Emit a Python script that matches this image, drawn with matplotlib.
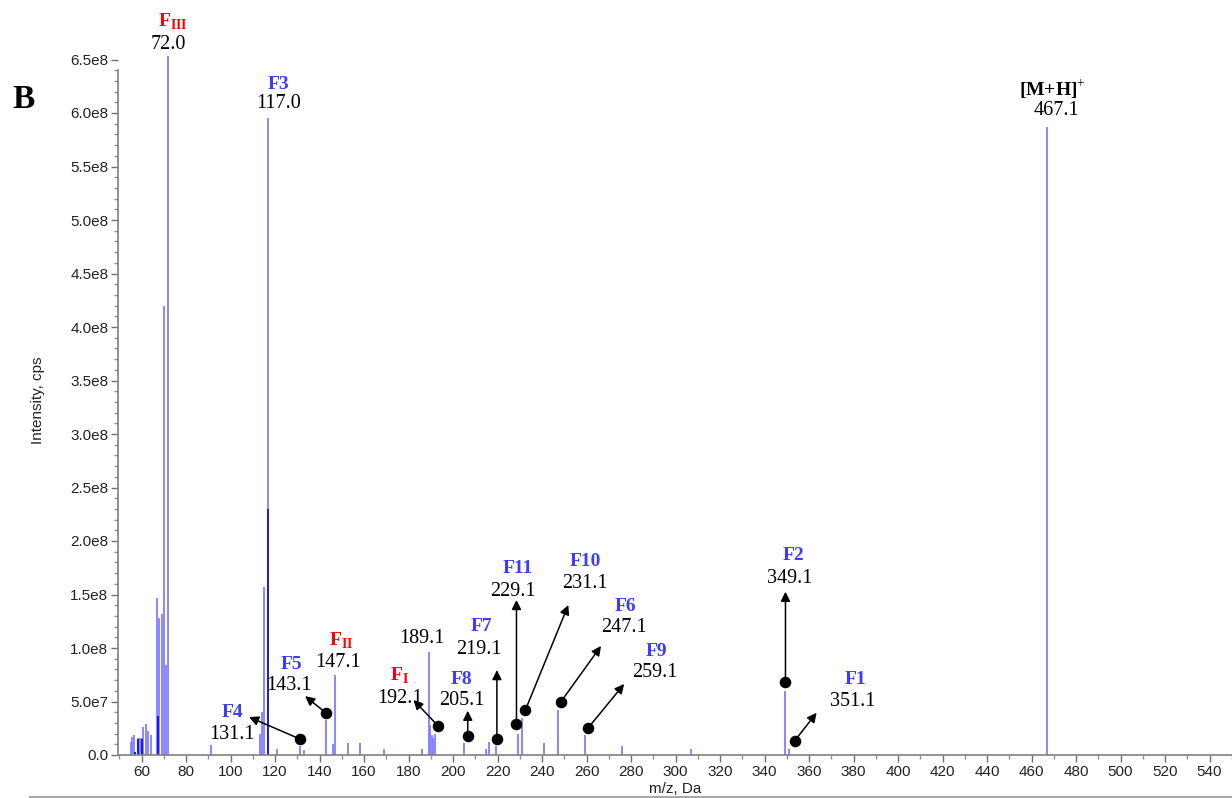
import matplotlib
matplotlib.use("Agg")
import matplotlib.pyplot as plt
from matplotlib.ticker import MultipleLocator, FuncFormatter
from matplotlib.lines import Line2D

plt.rcParams["mathtext.fontset"] = "custom"
plt.rcParams["mathtext.rm"] = "Liberation Serif"
plt.rcParams["mathtext.bf"] = "Liberation Serif:bold"

# peak list (m/z, intensity in cps)
mz = [55.2, 55.6, 56.5, 57.1, 58.6, 59.1, 60.1, 60.6, 62.1, 63.1, 64.1,
      67.0, 68.0, 69.1, 69.9, 71.0, 72.0, 91.0, 113.1, 114.0, 115.0, 117.0,
      121.0, 131.1, 133.0, 143.1, 146.1, 147.1, 153.0, 158.0, 169.0, 186.0,
      189.1, 189.8, 190.6, 191.2, 192.1, 205.1, 215.0, 216.0, 219.1, 229.1,
      231.1, 241.0, 247.1, 259.1, 276.0, 307.0, 349.1, 351.1, 467.1]
intensity = [1.2e7, 1.7e7, 1.9e7, 0.3e7, 1.6e7, 1.6e7, 1.6e7, 2.6e7, 2.9e7, 2.2e7, 1.9e7,
             1.47e8, 1.28e8, 1.32e8, 4.2e8, 8.4e7, 6.53e8, 0.9e7, 2.0e7, 4.0e7, 1.57e8, 5.95e8,
             0.6e7, 0.8e7, 0.5e7, 3.3e7, 1.0e7, 7.5e7, 1.1e7, 1.1e7, 0.6e7, 0.55e7,
             9.6e7, 2.8e7, 1.9e7, 1.6e7, 2.0e7, 1.1e7, 0.6e7, 1.2e7, 0.8e7, 2.0e7,
             3.5e7, 1.1e7, 4.2e7, 1.9e7, 0.85e7, 0.6e7, 6.0e7, 0.6e7, 5.87e8]

# overlapping peaks drawn darker
mz_dark = [57.1, 58.6, 60.1, 67.3, 116.7]
intensity_dark = [0.3e7, 1.5e7, 1.5e7, 3.6e7, 2.3e8]

# labelled fragments: name, colour, number
frag_names = [r"$\mathbf{F}_{\mathbf{III}}$", "F3", r"$\mathbf{[M{+}H]}^{+}$", "F11", "F10", "F6",
              "F7", "F9", "F2", "F1", "F5", r"$\mathbf{F}_{\mathbf{II}}$", r"$\mathbf{F}_{\mathbf{I}}$",
              "", "F8", "F4"]
frag_colors = ["#ff0000", "#3c3cff", "#000000", "#3c3cff", "#3c3cff", "#3c3cff",
               "#3c3cff", "#3c3cff", "#3c3cff", "#3c3cff", "#3c3cff", "#ff0000", "#ff0000",
               "#000000", "#3c3cff", "#3c3cff"]
frag_values = ["72.0", "117.0", "467.1", "229.1", "231.1", "247.1",
               "219.1", "259.1", "349.1", "351.1", "143.1", "147.1", "192.1",
               "189.1", "205.1", "131.1"]
# label positions (m/z, intensity) for name and number
name_pos = [(74.2, 6.85e8), (121.6, 6.27e8), (469.6, 6.22e8), (229.0, 1.74e8), (259.4, 1.81e8),
            (277.3, 1.39e8), (212.8, 1.20e8), (291.6, 0.97e8), (352.8, 1.86e8), (380.7, 0.71e8),
            (127.4, 0.85e8), (149.6, 1.065e8), (176.0, 0.74e8), (0, 0), (203.9, 0.71e8),
            (100.8, 0.40e8)]
num_pos = [(71.9, 6.64e8), (121.6, 6.09e8), (471.4, 6.02e8), (226.7, 1.53e8), (259.4, 1.60e8),
           (276.9, 1.19e8), (211.7, 0.99e8), (290.8, 0.77e8), (351.4, 1.65e8), (379.8, 0.50e8),
           (126.1, 0.645e8), (148.2, 0.86e8), (176.0, 0.53e8), (185.8, 1.09e8), (203.9, 0.51e8),
           (100.8, 0.196e8)]

# arrows: dot position -> arrow head
arrow_from = [(131.1, 1.5e7), (143.1, 3.9e7), (193.3, 2.71e7), (206.6, 1.78e7), (219.7, 1.47e7),
              (228.5, 2.87e7), (232.5, 4.2e7), (248.5, 4.98e7), (260.8, 2.55e7), (349.4, 6.85e7),
              (353.6, 1.34e7)]
arrow_to = [(108.3, 3.55e7), (133.5, 5.5e7), (182.2, 5.14e7), (206.6, 4.14e7), (219.7, 7.94e7),
            (228.5, 1.449e8), (251.8, 1.402e8), (266.5, 1.019e8), (276.9, 6.64e7), (349.4, 1.526e8),
            (363.4, 3.95e7)]

fig = plt.figure(figsize=(12.32, 7.98), dpi=100)
ax = fig.add_axes([118 / 1232, 43 / 798, 1114 / 1232, 695.5 / 798])

ax.vlines(mz, 0, intensity, color="#7f7fff", lw=1.3, clip_on=False)
ax.vlines(mz_dark, 0, intensity_dark, color="#1010ee", lw=1.3)

ax.set_xlim(49.4, 550.1)
ax.set_ylim(0, 6.5e8)

for s in ["top", "right"]:
    ax.spines[s].set_visible(False)
for s in ["left", "bottom"]:
    ax.spines[s].set_color("#808080")
    ax.spines[s].set_linewidth(1.2)
ax.spines["left"].set_bounds(0, 6.4e8)

ax.xaxis.set_major_locator(MultipleLocator(20))
ax.xaxis.set_minor_locator(MultipleLocator(10))
ax.yaxis.set_major_locator(MultipleLocator(0.5e8))
ax.yaxis.set_minor_locator(MultipleLocator(1e7))


def yfmt(v, pos):
    if v == 0:
        return "0.0"
    e = 8 if v >= 1e8 else 7
    return f"{v / 10 ** e:.1f}e{e}"


ax.yaxis.set_major_formatter(FuncFormatter(yfmt))
ax.tick_params(which="major", length=5, width=1, color="#707070", labelsize=11,
               labelcolor="#222222", pad=2)
ax.tick_params(which="minor", length=3, width=1, color="#909090")
for lab in ax.get_xticklabels() + ax.get_yticklabels():
    lab.set_family("Liberation Sans")

for name, col, val, npos, vpos in zip(frag_names, frag_colors, frag_values, name_pos, num_pos):
    if name:
        ax.text(npos[0], npos[1], name, color=col, fontsize=14, fontweight="bold",
                family="Liberation Serif", ha="center", va="center")
    ax.text(vpos[0], vpos[1], val, color="black", fontsize=14.5,
            family="Liberation Serif", ha="center", va="center")

for p0, p1 in zip(arrow_from, arrow_to):
    ax.annotate("", xy=p1, xytext=p0,
                arrowprops=dict(arrowstyle="-|>", color="black", lw=1.1,
                                mutation_scale=14, shrinkA=0, shrinkB=0))
    ax.plot(p0[0], p0[1], "o", color="black", ms=7.3, zorder=5)

fig.text(12 / 1232, 1 - 100 / 798, "B", fontsize=24, fontweight="bold",
         family="Liberation Serif", va="center", ha="left")
fig.text(38 / 1232, 1 - 400 / 798, "Intensity, cps", rotation=90, fontsize=11,
         family="Liberation Sans", color="#222222", ha="center", va="center")
fig.text(675 / 1232, 1 - 789 / 798, "m/z, Da", fontsize=11,
         family="Liberation Sans", color="#222222", ha="center", va="center")
fig.add_artist(Line2D([30 / 1232, 1], [1.5 / 798, 1.5 / 798], color="#a8a8a8", lw=1.5,
                      transform=fig.transFigure))

fig.savefig("out.png", dpi=100)
